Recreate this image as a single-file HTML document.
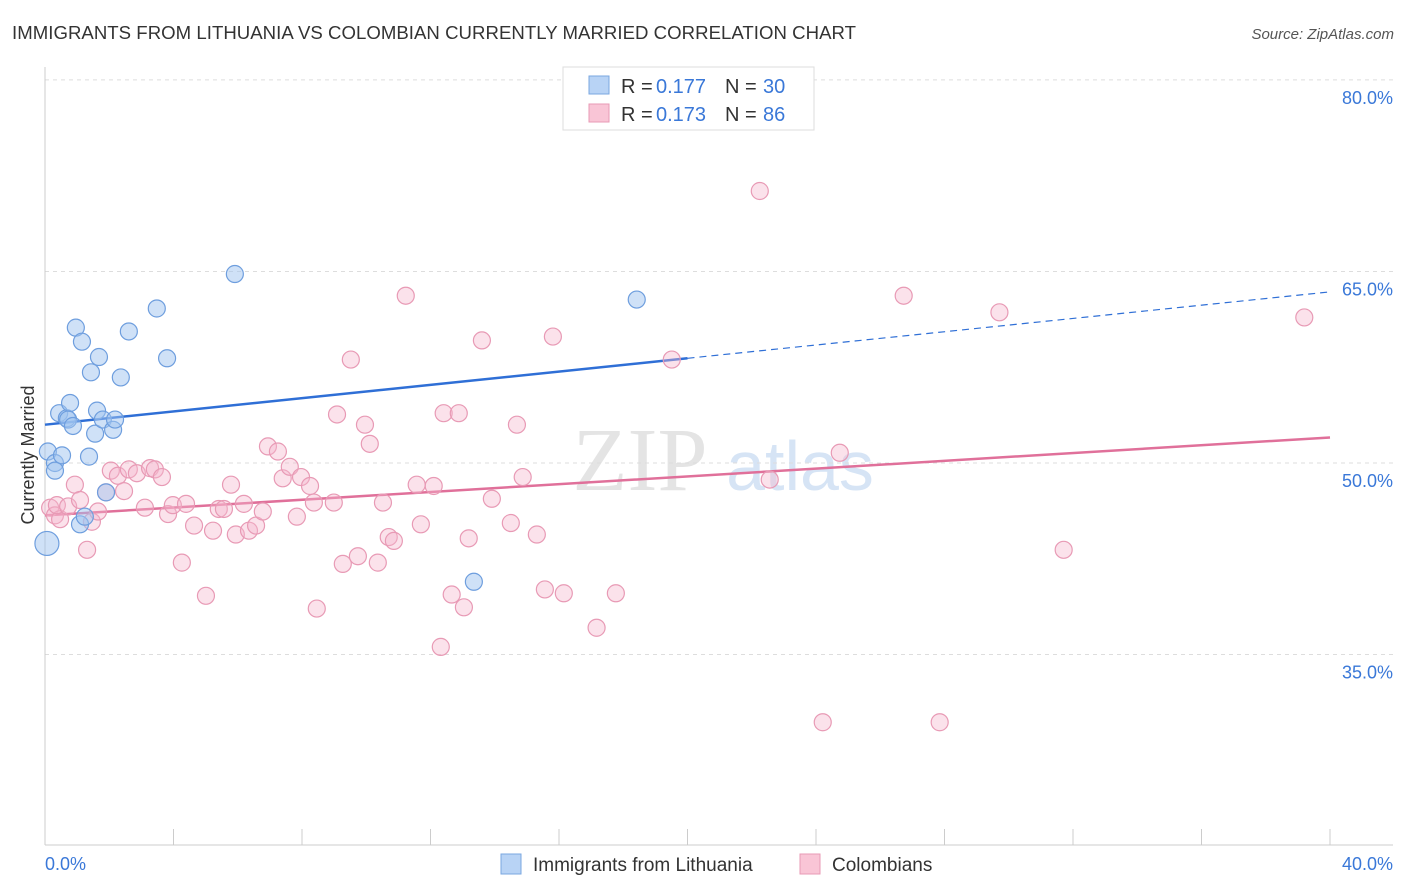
<!DOCTYPE html>
<html><head><meta charset="utf-8"><style>
body{margin:0;background:#fff;font-family:"Liberation Sans",sans-serif;}
svg{display:block}
</style></head><body>
<svg id="chart" width="1406" height="892">
<text x="12" y="39" font-size="18.6" fill="#333" textLength="844">IMMIGRANTS FROM LITHUANIA VS COLOMBIAN CURRENTLY MARRIED CORRELATION CHART</text>
<text x="1394" y="39" font-size="15" fill="#555" font-style="italic" text-anchor="end">Source: ZipAtlas.com</text>
<text x="640" y="490" font-size="90" fill="#e4e4e4" font-family="Liberation Serif" text-anchor="middle">ZIP</text>
<text x="800" y="490" font-size="70" fill="#d6e4f5" text-anchor="middle">atlas</text>
<g id="grid"></g><g id="axes"></g><g id="lines"></g><g id="pts"></g>
<text x="34" y="455" font-size="18" fill="#333" text-anchor="middle" transform="rotate(-90 34 455)">Currently Married</text>
<g>
<rect x="563" y="67" width="251" height="63" fill="#fff" stroke="#ddd"/>
<rect x="589" y="76" width="20" height="18" fill="#b8d3f5" stroke="#7aa7e0"/>
<rect x="589" y="104" width="20" height="18" fill="#f9c5d6" stroke="#e89ab5"/>
<text x="621" y="93" font-size="20" fill="#333">R =</text><text x="656" y="93" font-size="20" fill="#3a78d8">0.177</text>
<text x="725" y="93" font-size="20" fill="#333">N =</text><text x="763" y="93" font-size="20" fill="#3a78d8">30</text>
<text x="621" y="121" font-size="20" fill="#333">R =</text><text x="656" y="121" font-size="20" fill="#3a78d8">0.173</text>
<text x="725" y="121" font-size="20" fill="#333">N =</text><text x="763" y="121" font-size="20" fill="#3a78d8">86</text>
</g>
<g>
<rect x="501" y="854" width="20" height="20" fill="#b8d3f5" stroke="#7aa7e0"/>
<text x="533" y="871" font-size="19" fill="#333">Immigrants from Lithuania</text>
<rect x="800" y="854" width="20" height="20" fill="#f9c5d6" stroke="#e89ab5"/>
<text x="832" y="871" font-size="19" fill="#333">Colombians</text>
</g>
</svg>
<script>
const yTicks=[35,50,65,80];
const xTickVals=[0,4,8,12,16,20,24,28,32,36,40];
const blueX=[0.06,0.09,0.31,0.31,0.53,0.44,0.68,0.78,0.72,0.87,0.96,1.15,1.43,1.68,1.62,1.56,1.37,1.09,1.24,1.90,1.80,2.12,2.18,2.36,2.61,3.48,3.80,5.91,13.35,18.42];
const blueY=[43.7,50.9,50.0,49.4,50.6,53.9,53.5,54.7,53.4,52.9,60.6,59.5,57.1,58.3,54.1,52.3,50.5,45.2,45.8,47.7,53.4,52.6,53.4,56.7,60.3,62.1,58.2,64.8,40.7,62.8];
const pinkX=[0.16,0.31,0.47,0.37,0.72,0.93,1.09,1.31,1.46,1.65,1.90,2.05,2.27,2.46,2.61,2.86,3.11,3.27,3.42,3.64,3.83,3.98,4.26,4.39,4.64,5.01,5.23,5.41,5.57,5.79,5.94,6.19,6.35,6.57,6.78,6.94,7.25,7.40,7.62,7.84,7.97,8.25,8.37,8.46,8.99,9.09,9.27,9.52,9.74,9.96,10.11,10.36,10.52,10.70,10.86,11.23,11.57,11.70,12.10,12.32,12.41,12.66,12.88,13.04,13.19,13.60,13.91,14.50,14.69,14.87,15.31,15.56,15.81,16.15,17.17,17.77,19.51,22.25,22.56,24.21,24.74,26.73,27.85,29.71,31.71,39.20];
const pinkY=[46.5,45.9,45.6,46.7,46.6,48.3,47.1,43.2,45.4,46.2,47.7,49.4,49.0,47.8,49.5,49.2,46.5,49.6,49.5,48.9,46.0,46.7,42.2,46.8,45.1,39.6,44.7,46.4,46.4,48.3,44.4,46.8,44.7,45.1,46.2,51.3,50.9,48.8,49.7,45.8,48.9,48.2,46.9,38.6,46.9,53.8,42.1,58.1,42.7,53.0,51.5,42.2,46.9,44.2,43.9,63.1,48.3,45.2,48.2,35.6,53.9,39.7,53.9,38.7,44.1,59.6,47.2,45.3,53.0,48.9,44.4,40.1,59.9,39.8,37.1,39.8,58.1,71.3,48.7,29.7,50.8,63.1,29.7,61.8,43.2,61.4];
const blueTrend=[53.0,63.4];
const pinkTrend=[45.9,52.0];
const NS="http://www.w3.org/2000/svg";
const X=v=>45+v*32.125, Y=v=>463-(v-50)*12.77;
function mk(p,t,a){const e=document.createElementNS(NS,t);for(const k in a)e.setAttribute(k,a[k]);p.appendChild(e);return e;}
const grid=document.getElementById('grid'),axes=document.getElementById('axes'),lines=document.getElementById('lines'),pts=document.getElementById('pts');
yTicks.forEach(v=>{
 const l=mk(grid,'line',{x1:45,x2:1393,y1:Y(v),y2:Y(v),stroke:'#ddd','stroke-dasharray':'4,4'});
 
 
 const t=mk(axes,'text',{x:1393,y:Y(v)+24,'font-size':18,fill:'#3a78d8','text-anchor':'end'});t.textContent=v.toFixed(1)+'%';
 
 
});
mk(axes,'line',{x1:45,x2:45,y1:67,y2:845,stroke:'#ccc'});
mk(axes,'line',{x1:45,x2:1393,y1:845,y2:845,stroke:'#ccc'});
xTickVals.forEach(v=>{const l=mk(axes,'line',{x1:X(v),x2:X(v),y1:829,y2:845,stroke:'#ccc'});
 
 });
[[0,'0.0%','start',45],[40,'40.0%','end',1393]].forEach(a=>{const t=mk(axes,'text',{x:a[3],y:870,'font-size':18,fill:'#3a78d8','text-anchor':a[2]});t.textContent=a[1];
 
 });
let bl=mk(lines,'line',{x1:X(0),y1:Y(blueTrend[0]),x2:X(20),y2:Y(blueTrend[0]+(blueTrend[1]-blueTrend[0])/2),stroke:'#2f6fd6','stroke-width':2.5});


let bd=mk(lines,'line',{x1:X(20),y1:Y(blueTrend[0]+(blueTrend[1]-blueTrend[0])/2),x2:X(40),y2:Y(blueTrend[1]),stroke:'#2f6fd6','stroke-width':1.2,'stroke-dasharray':'7,5'});


let pl=mk(lines,'line',{x1:X(0),y1:Y(pinkTrend[0]),x2:X(40),y2:Y(pinkTrend[1]),stroke:'#e0709a','stroke-width':2.5});


pinkX.forEach((x,i)=>{const c=mk(pts,'circle',{cx:X(x),cy:Y(pinkY[i]),r:8.5,fill:'rgba(246,182,204,0.4)',stroke:'#e89ab5','stroke-width':1.2});
 
 });
blueX.forEach((x,i)=>{const c=mk(pts,'circle',{cx:X(x),cy:Y(blueY[i]),r:i===0?12:8.5,fill:'rgba(160,196,240,0.5)',stroke:'#6e9ede','stroke-width':1.2});
 
 });
</script>
</body></html>
